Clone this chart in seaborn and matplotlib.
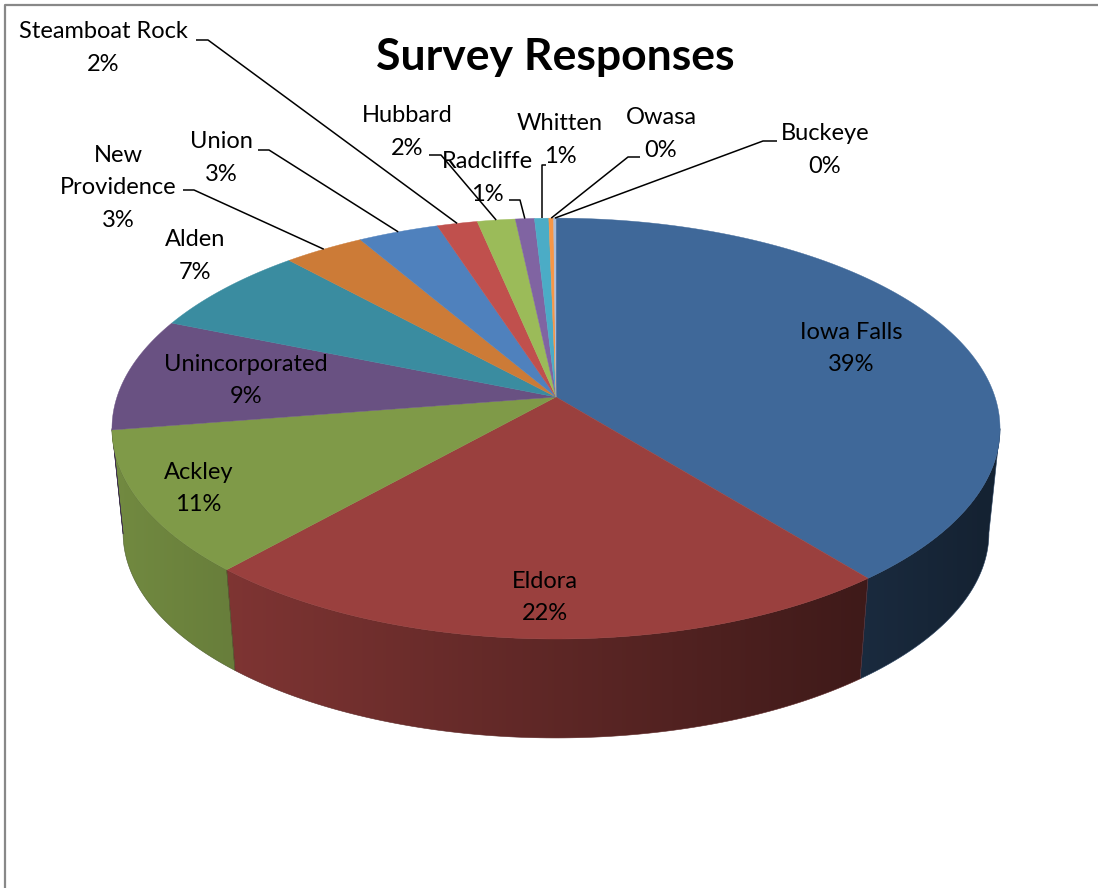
import numpy as np
import matplotlib
matplotlib.use("Agg")
import matplotlib.pyplot as plt
from matplotlib.patches import Polygon
from matplotlib.colors import to_rgb
import seaborn as sns

# ---- data -----------------------------------------------------------------
towns = ["Iowa Falls", "Eldora", "Ackley", "Unincorporated", "Alden",
         "New Providence", "Union", "Steamboat Rock", "Hubbard", "Radcliffe",
         "Whitten", "Owasa", "Buckeye"]
responses = [392, 224, 109, 87, 70, 34, 34, 17, 16, 8, 6, 2, 1]
slice_colors = ["#3F6899", "#9A403E", "#7F9A48", "#695182", "#3A8CA0",
                "#CC7B37", "#4F81BD", "#C0504D", "#9BBB59", "#8064A2",
                "#4BACC6", "#F79646", "#A9BCD8"]
chart_title = "Survey Responses"

# ---- theme ----------------------------------------------------------------
sns.set_theme(style="white")
plt.rcParams["font.family"] = ["Lato", "DejaVu Sans"]
palette = sns.color_palette(slice_colors)

W, H = 1098, 888
fig = plt.figure(figsize=(W / 100, H / 100), dpi=100)
ax = fig.add_axes([0, 0, 1, 1])
ax.set_xlim(0, W)
ax.set_ylim(H, 0)
ax.axis("off")

# ---- 3-D pie geometry (pixel space of the axes) ---------------------------
CX, CY = 556.0, 397.0      # apex of the slices on the top face
RX, RY = 439.0, 205.7      # projected radii of the top disk
PERSP = 0.15               # perspective foreshortening
DEPTH = 105.0              # thickness of the pie
BOTTOM_SCALE = 0.975       # bottom rim sits slightly further away


def project(theta, r=1.0, bottom=False):
    """Map polar coordinates on the disk (theta clockwise from 12 o'clock)."""
    u = r * np.sin(theta)
    v = -r * np.cos(theta)
    s = 1.0 / (1.0 - PERSP * v)
    sc = BOTTOM_SCALE if bottom else 1.0
    x = CX + RX * sc * u * s
    y = CY + (DEPTH if bottom else 0.0) + RY * sc * v * s
    return x, y


values = np.asarray(responses, dtype=float)
total = values.sum()
edges = np.concatenate([[0.0], np.cumsum(values)]) / total * 2 * np.pi
mids = (edges[:-1] + edges[1:]) / 2

# visible (front) part of the rim
th_right = np.pi / 2 + np.arcsin(PERSP)
th_left = 3 * np.pi / 2 - np.arcsin(PERSP)

# horizontal shading for the side wall
x_grad = np.linspace(100, 1012, 600)
shade = np.clip(0.82 - 0.41 * (x_grad - 230) / 630, 0.33, 0.92)

for i, col in enumerate(palette):
    lo, hi = max(edges[i], th_right), min(edges[i + 1], th_left)
    if hi <= lo:
        continue
    t = np.linspace(lo, hi, 120)
    tx, ty = project(t)
    bx, by = project(t[::-1], bottom=True)
    side = Polygon(np.column_stack([np.r_[tx, bx], np.r_[ty, by]]),
                   closed=True, transform=ax.transData)
    rgb = np.array(to_rgb(col))
    img = (shade[None, :, None] * rgb[None, None, :]).repeat(2, axis=0)
    im = ax.imshow(img, extent=(x_grad[0], x_grad[-1], 760, 380),
                   aspect="auto", interpolation="bilinear", zorder=1)
    im.set_clip_path(side)
    # thin outline of the same shade hides anti-alias seams
    ax.add_patch(Polygon(side.get_xy(), closed=True, facecolor="none",
                         edgecolor=tuple(rgb * 0.6), lw=0.4, zorder=1.1))

# top face
for i, col in enumerate(palette):
    n = max(4, int((edges[i + 1] - edges[i]) / (2 * np.pi) * 720))
    t = np.linspace(edges[i], edges[i + 1], n)
    px, py = project(t)
    pts = np.column_stack([np.r_[CX, px], np.r_[CY, py]])
    ax.add_patch(Polygon(pts, closed=True, facecolor=col, edgecolor=col,
                         lw=0.3, zorder=2))

# ---- labels ---------------------------------------------------------------
pct = [f"{v / total * 100:.0f}%" for v in values]
label_size = 17
line_gap = 1.65

# labels placed on the slices (radius fraction of the disk)
inside_r = {"Iowa Falls": 0.74, "Eldora": 0.85, "Ackley": 0.87,
            "Unincorporated": 0.72}
# labels placed around the pie: text centre, leader start, leader elbow
outside = {
    "Alden": ((195, 256), None, None),
    "New Providence": ((118, 188), (183, 190), (194, 190)),
    "Union": ((221, 158), (258, 150), (269, 150)),
    "Steamboat Rock": ((103, 48), (196, 40), (208, 40)),
    "Hubbard": ((407, 132), (429, 155), (441, 155)),
    "Radcliffe": ((487, 178), (509, 200), (520, 200)),
    "Whitten": ((560, 140), (546, 165), None),
    "Owasa": ((661, 134), (640, 157), (628, 157)),
    "Buckeye": ((825, 150), (777, 141), (763, 141)),
}
wrapped = {"New Providence": "New\nProvidence"}

for i, name in enumerate(towns):
    text = wrapped.get(name, name) + "\n" + pct[i]
    if name in inside_r:
        x, y = project(mids[i], inside_r[name])
        ax.text(x, y, text, ha="center", va="center", fontsize=label_size,
                color="black", linespacing=line_gap, zorder=5)
        continue
    (x, y), start, elbow = outside[name]
    ax.text(x, y, text, ha="center", va="center", fontsize=label_size,
            color="black", linespacing=line_gap, zorder=5)
    if start is None:
        continue
    rx, ry = project(mids[i])
    if elbow is None:
        elbow = (rx, start[1])
    ax.plot([start[0], elbow[0], rx], [start[1], elbow[1], ry],
            color="black", lw=1.1, solid_capstyle="butt", zorder=4)

ax.text(555, 57, chart_title, ha="center", va="center", fontsize=32,
        fontweight="bold", color="black", zorder=5)

# chart-area frame
ax.plot([5, 5, W + 20], [H + 20, 5, 5], color="#888888", lw=1.6, zorder=6)

fig.savefig("out.png", dpi=100)
